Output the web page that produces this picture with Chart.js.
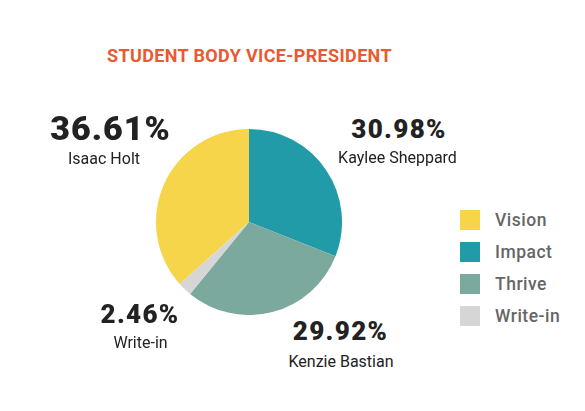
<!DOCTYPE html>
<html>
<head>
<meta charset="utf-8">
<script src="https://cdn.jsdelivr.net/npm/chart.js@4"></script>
<style>
  html, body { margin: 0; padding: 0; background: #fff; }
  #page { position: relative; width: 585px; height: 411px; overflow: hidden; font-family: "Roboto", "Liberation Sans", sans-serif; }
  #title { position: absolute; left: 0; width: 499px; top: 46.5px; text-align: center; color: #E85A31; font-weight: 700; font-size: 18px; line-height: 18px; letter-spacing: 0.35px; }
  #pieBox { position: absolute; left: 156px; top: 129px; width: 186px; height: 186px; }
  .t { position: absolute; color: #222; transform: translateX(-50%); white-space: nowrap; text-align: center; }
  .pct { font-weight: 900; }
  .big { font-size: 34px; line-height: 34px; letter-spacing: 1px; }
  .small { font-size: 26px; line-height: 26px; letter-spacing: 1.3px; }
  .name { font-weight: 400; font-size: 16px; line-height: 16px; }
  #legend { position: absolute; left: 460px; top: 210px; }
  .li { display: flex; align-items: center; height: 20px; margin-bottom: 12px; }
  .sw { width: 20px; height: 20px; margin-right: 15px; }
  .lt { color: #666; font-size: 17.5px; font-weight: 500; letter-spacing: 0.5px; }
</style>
</head>
<body>
<div id="page">
  <div id="title"></div>
  <div id="pieBox"><canvas id="c"></canvas></div>
  <div id="labels"></div>
  <div id="legend"></div>
</div>
<script>
const title = "STUDENT BODY VICE-PRESIDENT";
const categories = ["Vision", "Impact", "Thrive", "Write-in"];
const candidates = ["Isaac Holt", "Kaylee Sheppard", "Kenzie Bastian", "Write-in"];
const shares = [36.61, 30.98, 29.92, 2.46];
const colors = ["#F6D54A", "#229BA8", "#7BA99D", "#D6D6D6"];

// layout for the outside labels, kept apart from the data
const labelLayout = [
  { px: 110.5, py: 111.4, size: 'big',   nx: 104,   ny: 150.5 },
  { px: 399,   py: 116.4, size: 'small', nx: 397.5, ny: 150.2 },
  { px: 340.5, py: 318.1, size: 'small', nx: 341,   ny: 353.5 },
  { px: 140,   py: 301.1, size: 'small', nx: 140.5, ny: 334.5 }
];

document.getElementById('title').textContent = title;

const total = shares.reduce((a, b) => a + b, 0);

new Chart(document.getElementById('c'), {
  type: 'pie',
  data: {
    labels: categories,
    datasets: [{
      data: shares,
      backgroundColor: colors,
      borderWidth: 0
    }]
  },
  options: {
    responsive: true,
    maintainAspectRatio: false,
    animation: false,
    rotation: -360 * shares[0] / total,
    layout: { padding: 0 },
    plugins: {
      legend: { display: false },
      tooltip: { enabled: false },
      title: { display: false }
    }
  }
});

const labelsDiv = document.getElementById('labels');
shares.forEach((v, i) => {
  const L = labelLayout[i];
  const p = document.createElement('div');
  p.className = 't pct ' + L.size;
  p.style.left = L.px + 'px';
  p.style.top = L.py + 'px';
  p.textContent = v.toFixed(2) + '%';
  labelsDiv.appendChild(p);
  const n = document.createElement('div');
  n.className = 't name';
  n.style.left = L.nx + 'px';
  n.style.top = L.ny + 'px';
  n.textContent = candidates[i];
  labelsDiv.appendChild(n);
});

const legendDiv = document.getElementById('legend');
categories.forEach((c, i) => {
  const row = document.createElement('div');
  row.className = 'li';
  row.innerHTML = '<div class="sw" style="background:' + colors[i] + '"></div><div class="lt">' + c + '</div>';
  legendDiv.appendChild(row);
});
</script>
</body>
</html>
